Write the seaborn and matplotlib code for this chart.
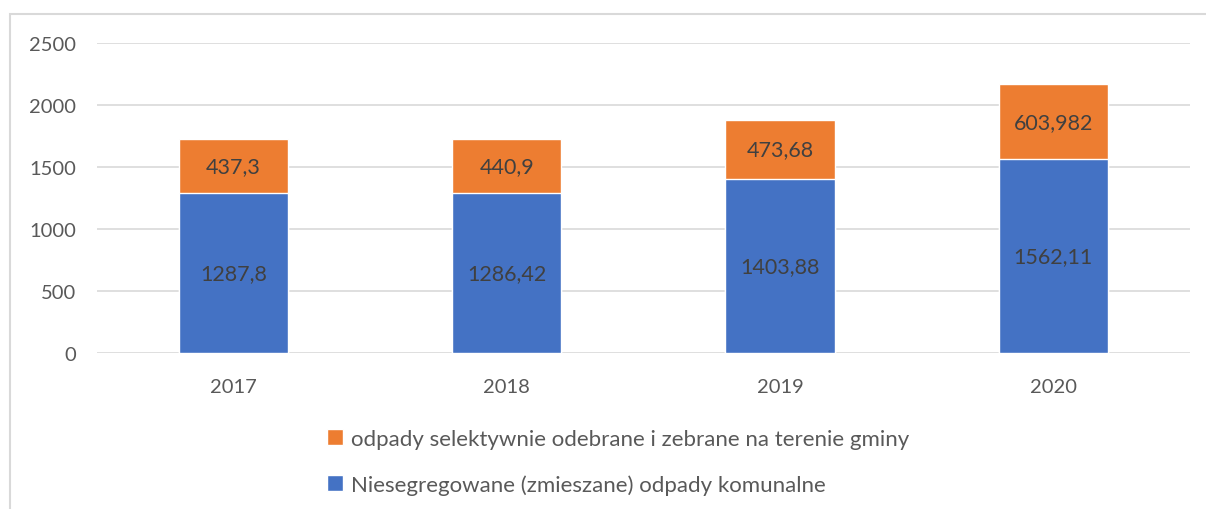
import matplotlib
matplotlib.use("Agg")
import matplotlib.pyplot as plt
import seaborn as sns
import pandas as pd
from matplotlib.patches import Rectangle, Patch

years = ["2017", "2018", "2019", "2020"]
mixed = [1287.8, 1286.42, 1403.88, 1562.11]
selective = [437.3, 440.9, 473.68, 603.982]
mixed_labels = ["1287,8", "1286,42", "1403,88", "1562,11"]
selective_labels = ["437,3", "440,9", "473,68", "603,982"]
legend_labels = ["odpady selektywnie odebrane i zebrane na terenie gminy",
                 "Niesegregowane (zmieszane) odpady komunalne"]

sns.set_theme(style="white")
plt.rcParams['font.family'] = ['Lato', 'DejaVu Sans']

BLUE = "#4472C4"
ORANGE = "#ED7D31"
GRID = "#D9D9D9"
TXT = "#595959"

df = pd.DataFrame({"year": years, "mixed": mixed, "selective": selective})
df["total"] = df["mixed"] + df["selective"]

fig = plt.figure(figsize=(12.06, 5.1), dpi=100)
ax = fig.add_axes([0.0804, 0.306, 0.9063, 0.6077])

sns.barplot(data=df, x="year", y="total", color=ORANGE, width=0.4,
            saturation=1, ax=ax, zorder=2)
sns.barplot(data=df, x="year", y="mixed", color=BLUE, width=0.4,
            saturation=1, ax=ax, zorder=3)

for i in range(len(years)):
    ax.text(i, mixed[i] / 2, mixed_labels[i], ha="center", va="center",
            fontsize=15.5, color="#404040", zorder=4)
    ax.text(i, mixed[i] + selective[i] / 2, selective_labels[i], ha="center",
            va="center", fontsize=15.5, color="#404040", zorder=4)

ax.set_ylim(0, 2500)
ax.set_yticks(range(0, 2501, 500))
ax.yaxis.grid(True, color=GRID, linewidth=1.2, zorder=0)
ax.set_axisbelow(True)
for s in ax.spines.values():
    s.set_visible(False)
ax.set_xlabel("")
ax.set_ylabel("")
ax.tick_params(axis="both", length=0, labelsize=14.5, labelcolor=TXT)
ax.tick_params(axis="y", pad=15)
ax.tick_params(axis="x", pad=18)

handles = [Patch(facecolor=ORANGE), Patch(facecolor=BLUE)]
leg = fig.legend(handles, legend_labels, loc="upper left",
                 bbox_to_anchor=(0.264, 0.175), ncol=1, frameon=False,
                 fontsize=16, handlelength=0.7, handleheight=0.7,
                 handletextpad=0.35, labelspacing=1.15, borderaxespad=0)
for t in leg.get_texts():
    t.set_color(TXT)

fig.add_artist(Rectangle((10 / 1206, -0.2), 1.2, 0.2 + 1 - 15 / 510,
                         transform=fig.transFigure, fill=False,
                         edgecolor=GRID, linewidth=1.5))

fig.savefig("out.png", dpi=100)
